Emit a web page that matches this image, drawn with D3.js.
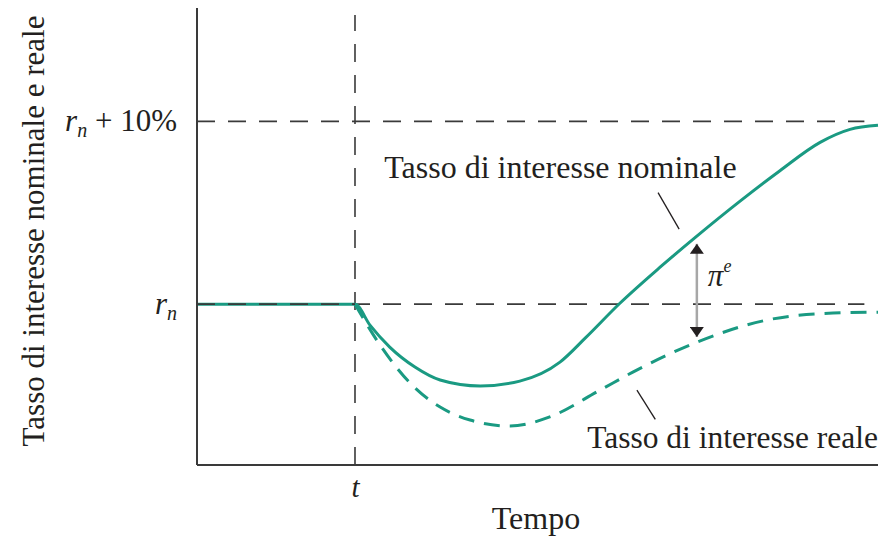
<!doctype html>
<html lang="it">
<head>
<meta charset="utf-8">
<title>Tasso di interesse nominale e reale</title>
<script src="https://cdn.jsdelivr.net/npm/d3@7"></script>
<style>
  body { margin: 0; background: #fff; }
  text { font-family: "Liberation Serif", "DejaVu Serif", serif; fill: #231f20; }
</style>
</head>
<body>
<script>
// time runs 0..100 along the axis, rates in percentage points around r_n
var tShock = 23.2;
var nominalT = [0, 23.2, 25.4, 28.3, 32.0, 35.7, 41.6, 47.4, 53.3, 57.0, 62.1, 68.0, 73.4, 79.7, 85.6, 91.5, 95.9, 100];
var nominalR = [0, 0, -1.15, -2.35, -3.44, -4.15, -4.48, -4.21, -3.17, -1.86, 0.05, 2.02, 3.72, 5.62, 7.30, 8.85, 9.56, 9.78];
var realT = [23.2, 26.4, 31.3, 35.7, 40.1, 46.0, 51.8, 59.2, 64.0, 73.4, 83.7, 93.4, 100];
var realR = [0, -1.97, -4.32, -5.63, -6.34, -6.67, -6.17, -4.70, -3.72, -2.08, -0.87, -0.49, -0.44];
var levels = [0, 10];
var levelLabels = [["r", "n", ""], ["r", "n", " + 10%"]];
var arrowT = 73.4, arrowTop = 3.3, arrowBottom = -1.8;

var W = 882, H = 542;
var margin = {top: 8, right: 4, bottom: 77, left: 197};
var w = W - margin.left - margin.right;
var h = H - margin.top - margin.bottom;
var teal = "#1a9a82";

var x = d3.scaleLinear().domain([0, 100]).range([0, w]);
var y = d3.scaleLinear().domain([-8.8, 16.2]).range([h, 0]);

var svg = d3.select("body").append("svg")
    .attr("width", W).attr("height", H);
var g = svg.append("g")
    .attr("transform", "translate(" + margin.left + "," + margin.top + ")");

var defs = svg.append("defs");
defs.append("marker")
    .attr("id", "head")
    .attr("viewBox", "0 0 10 14")
    .attr("refX", 10).attr("refY", 7)
    .attr("markerWidth", 10).attr("markerHeight", 14)
    .attr("markerUnits", "userSpaceOnUse")
    .attr("orient", "auto-start-reverse")
  .append("path")
    .attr("d", "M0,0L10,7L0,14Z")
    .attr("fill", "#231f20");

// guide lines
levels.forEach(function(v) {
    g.append("line")
        .attr("x1", 0).attr("x2", x(98))
        .attr("y1", y(v)).attr("y2", y(v))
        .attr("stroke", "#3a3a3a").attr("stroke-width", 1.6)
        .attr("stroke-dasharray", "18,13");
});
g.append("line")
    .attr("x1", x(tShock)).attr("x2", x(tShock))
    .attr("y1", h).attr("y2", 7)
    .attr("stroke", "#3a3a3a").attr("stroke-width", 1.6)
    .attr("stroke-dasharray", "18,13");

var line = d3.line()
    .x(function(d) { return x(d[0]); })
    .y(function(d) { return y(d[1]); })
    .curve(d3.curveMonotoneX);

var nominal = nominalT.map(function(t, i) { return [t, nominalR[i]]; });
var real = realT.map(function(t, i) { return [t, realR[i]]; });

g.append("path")
    .datum(real)
    .attr("d", line)
    .attr("fill", "none")
    .attr("stroke", teal).attr("stroke-width", 3)
    .attr("stroke-dasharray", "16,10");

g.append("path")
    .datum(nominal)
    .attr("d", line)
    .attr("fill", "none")
    .attr("stroke", teal).attr("stroke-width", 3);

// redraw the flat guide over the flat segment
g.append("line")
    .attr("x1", 0).attr("x2", x(tShock))
    .attr("y1", y(0)).attr("y2", y(0))
    .attr("stroke", "#3a3a3a").attr("stroke-width", 1.6)
    .attr("stroke-dasharray", "18,13");

// axes
var xAxis = d3.axisBottom(x).tickValues([tShock]).tickSize(0).tickFormat(function() { return "t"; });
var yAxis = d3.axisLeft(y).tickValues(levels).tickSize(0).tickFormat(function() { return ""; });

var gx = g.append("g")
    .attr("transform", "translate(0," + h + ")")
    .call(xAxis);
gx.select(".domain").attr("stroke", "#3a3a3a").attr("stroke-width", 2)
    .attr("d", "M0,0H" + w);
gx.selectAll(".tick text")
    .attr("dy", 0).attr("y", 32)
    .style("font-size", "29px").style("font-style", "italic")
    .style("font-family", "'Liberation Serif', serif")
    .attr("fill", "#231f20");

var gy = g.append("g").call(yAxis);
gy.select(".domain").attr("stroke", "#3a3a3a").attr("stroke-width", 2)
    .attr("d", "M0," + h + "V0");
gy.selectAll(".tick text")
    .attr("x", -20).attr("dy", "0.3em")
    .style("font-size", "31px")
    .style("font-family", "'Liberation Serif', serif")
    .attr("fill", "#231f20")
    .each(function(d, i) {
        var lab = levelLabels[i];
        var t = d3.select(this);
        t.append("tspan").style("font-style", "italic").text(lab[0]);
        t.append("tspan").style("font-style", "italic").style("font-size", "20px")
            .attr("dy", 6).text(lab[1]);
        if (lab[2]) t.append("tspan").attr("dy", -6).text(lab[2]);
    });

// pi^e arrow
g.append("line")
    .attr("x1", x(arrowT)).attr("x2", x(arrowT))
    .attr("y1", y(arrowBottom)).attr("y2", y(arrowTop))
    .attr("stroke", "#a7a7a7").attr("stroke-width", 2.5)
    .attr("marker-start", "url(#head)")
    .attr("marker-end", "url(#head)");
var pe = g.append("text")
    .attr("x", x(arrowT) + 11).attr("y", y(1.0))
    .style("font-size", "31px");
pe.append("tspan").style("font-style", "italic").text("\u03c0");
pe.append("tspan").style("font-style", "italic").style("font-size", "18px")
    .attr("dy", -14).text("e");

// labels with leader lines
g.append("text")
    .attr("x", x(27.5)).attr("y", y(6.9))
    .style("font-size", "32px")
    .text("Tasso di interesse nominale");
g.append("line")
    .attr("x1", x(67.7)).attr("y1", y(6.1))
    .attr("x2", x(70.8)).attr("y2", y(4.1))
    .attr("stroke", "#231f20").attr("stroke-width", 1.3);

g.append("text")
    .attr("x", x(100)).attr("y", y(-7.85))
    .attr("text-anchor", "end")
    .style("font-size", "31.5px")
    .text("Tasso di interesse reale");
g.append("line")
    .attr("x1", x(64.6)).attr("y1", y(-4.7))
    .attr("x2", x(67.3)).attr("y2", y(-6.3))
    .attr("stroke", "#231f20").attr("stroke-width", 1.3);

// axis titles
svg.append("text")
    .attr("x", 536).attr("y", 529)
    .attr("text-anchor", "middle")
    .style("font-size", "32px")
    .text("Tempo");
svg.append("text")
    .attr("transform", "translate(44,231) rotate(-90)")
    .attr("text-anchor", "middle")
    .style("font-size", "31px")
    .text("Tasso di interesse nominale e reale");
</script>
</body>
</html>
